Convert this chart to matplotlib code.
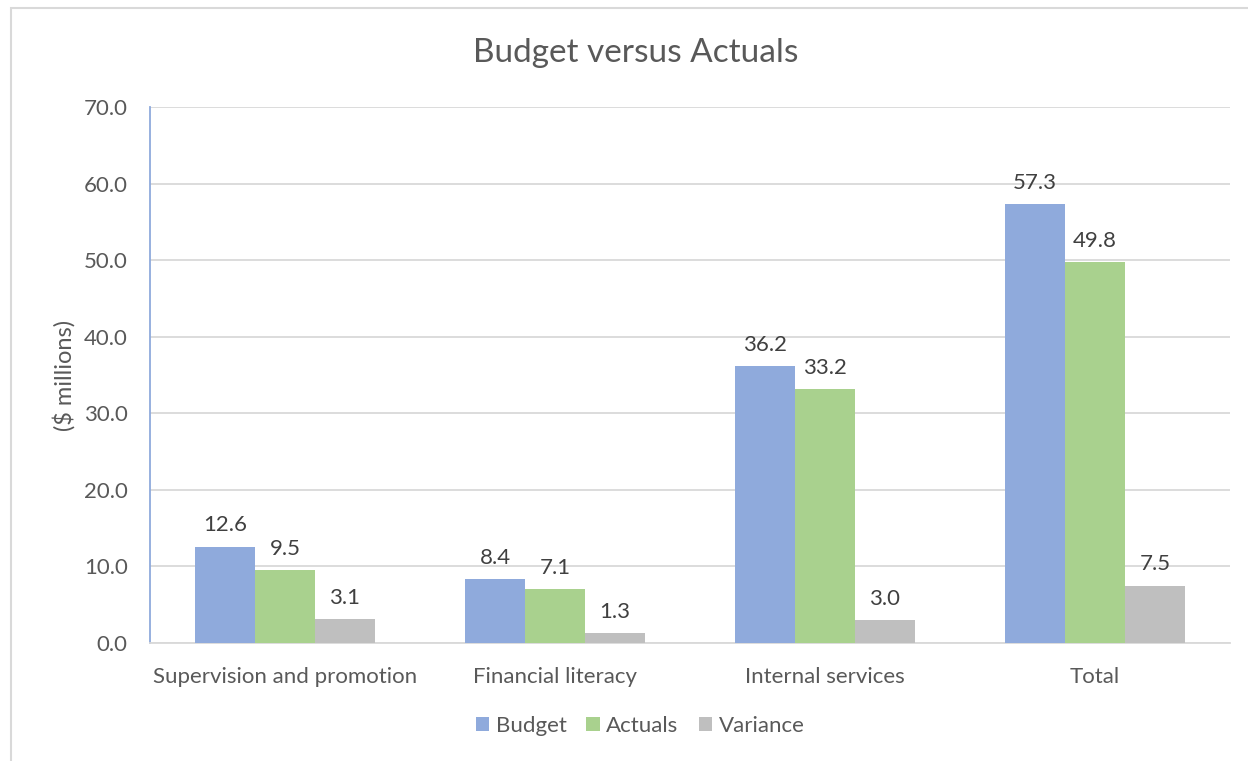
import numpy as np
import matplotlib.pyplot as plt
from matplotlib.patches import Rectangle

categories = ['Supervision and promotion', 'Financial literacy', 'Internal services', 'Total']
budget = [12.6, 8.4, 36.2, 57.3]
actuals = [9.5, 7.1, 33.2, 49.8]
variance = [3.1, 1.3, 3.0, 7.5]

series = [('Budget', budget, '#8FAADC'),
          ('Actuals', actuals, '#A9D18E'),
          ('Variance', variance, '#BFBFBF')]

plt.rcParams['font.family'] = ['Lato', 'DejaVu Sans']
TXT = '#595959'

fig = plt.figure(figsize=(12.48, 7.61), dpi=100)
W, H = 1248, 761
ax = fig.add_axes([150 / W, 1 - 643 / H, 1080 / W, 536 / H])

# outer chart frame
fig.patches.append(Rectangle((11 / W, -0.1), 1.2, 1 - 8 / H + 0.1,
                             transform=fig.transFigure, fill=False,
                             edgecolor='#D9D9D9', linewidth=1.5))

x = np.arange(len(categories))
width = 0.222
for i, (name, vals, col) in enumerate(series):
    pos = x + (i - 1) * width
    bars = ax.bar(pos, vals, width, color=col, label=name, zorder=3)
    for b, v in zip(bars, vals):
        ax.annotate(f'{v:.1f}', (b.get_x() + b.get_width() / 2, v),
                    xytext=(0, 8), textcoords='offset points',
                    ha='center', va='bottom', fontsize=16, color='#404040')

ax.set_xlim(-0.5, len(categories) - 0.5)
ax.set_ylim(0, 70)
ax.set_yticks(np.arange(0, 71, 10))
ax.set_yticklabels([f'{t:.1f}' for t in np.arange(0, 71, 10)])
ax.set_xticks(x)
ax.set_xticklabels(categories)
ax.tick_params(axis='both', length=0, labelsize=16, labelcolor=TXT)
ax.tick_params(axis='x', pad=17)
ax.tick_params(axis='y', pad=16)
ax.grid(axis='y', color='#D9D9D9', linewidth=1.3, zorder=0)

for s in ['top', 'right']:
    ax.spines[s].set_visible(False)
ax.spines['left'].set_color('#8FAADC')
ax.spines['left'].set_linewidth(1.3)
ax.spines['bottom'].set_color('#D9D9D9')
ax.spines['bottom'].set_linewidth(1.3)

ax.set_ylabel('($ millions)', fontsize=17, color=TXT, labelpad=6)
fig.text(636 / W, 1 - 53 / H, 'Budget versus Actuals', ha='center', va='center',
         fontsize=24, color=TXT)

fig.legend(loc='center', bbox_to_anchor=(640 / W, 1 - 726 / H), ncol=3, frameon=False,
           fontsize=16, labelcolor=TXT, handlelength=0.6, handleheight=0.6,
           handletextpad=0.3, columnspacing=0.9)

fig.savefig('out.png', dpi=100)
